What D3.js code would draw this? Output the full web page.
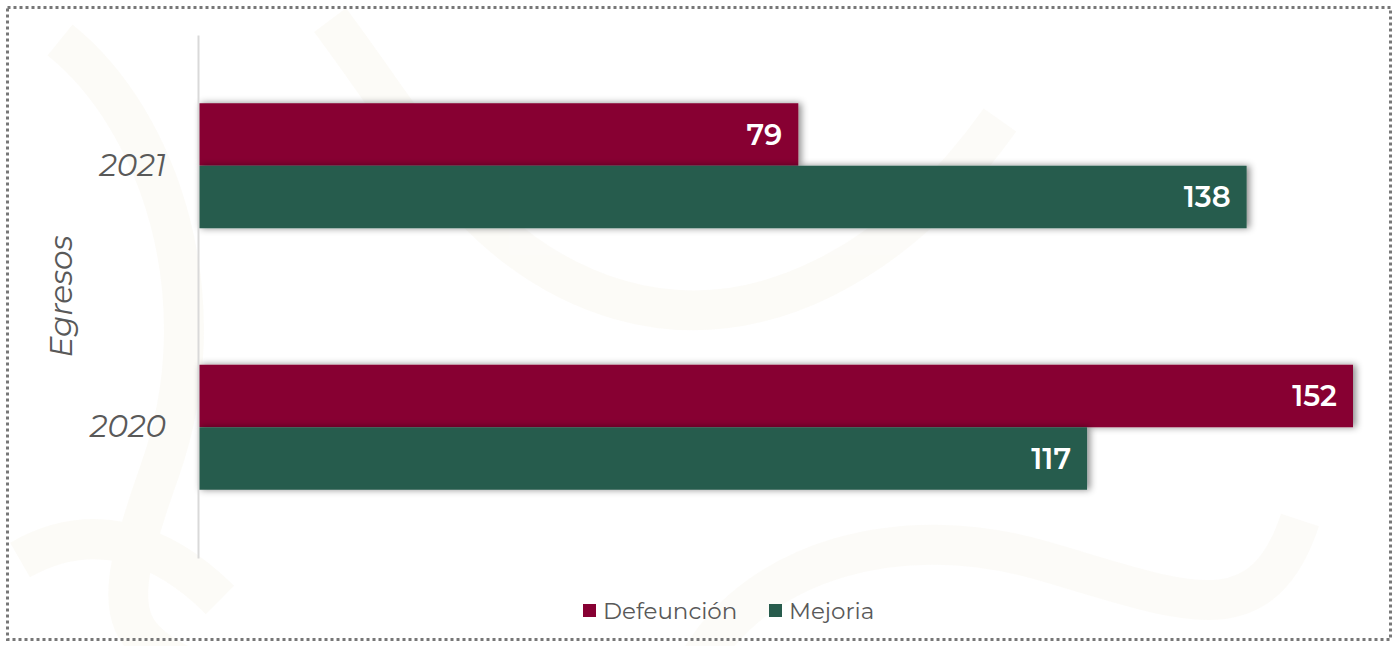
<!DOCTYPE html>
<html>
<head>
<meta charset="utf-8">
<script src="https://cdn.jsdelivr.net/npm/d3@7"></script>
<style>
  html, body { margin: 0; padding: 0; background: #ffffff; }
  svg { display: block; font-family: "Montserrat", "Noto Sans", "Open Sans", sans-serif; }
</style>
</head>
<body>
<svg id="chart" width="1397" height="646"></svg>
<script>
// Hospital discharges by outcome, per year
const years = ["2021", "2020"];
const seriesNames = ["Defeunción", "Mejoria"];
const defuncion = [79, 152];
const mejoria = [138, 117];
const seriesColors = ["#870033", "#285C4D"];
const axisTitle = "Egresos";

const svg = d3.select("#chart");
const W = 1397, H = 646;

// faint decorative background motif
const bg = svg.append("g").attr("fill", "none").attr("stroke", "#f7f4ea").attr("stroke-width", 40).attr("opacity", 0.35);
bg.append("path").attr("d", "M60,40 C160,120 220,300 160,470 S120,640 260,700");
bg.append("path").attr("d", "M330,20 C420,140 480,260 620,300 S900,260 1000,120");
bg.append("path").attr("d", "M700,660 C760,560 900,520 1040,560 S1260,640 1300,520");
bg.append("path").attr("d", "M20,560 C90,520 160,540 220,600");

// dotted frame
svg.append("rect")
  .attr("x", 7.5).attr("y", 7.5).attr("width", W - 14).attr("height", H - 14)
  .attr("fill", "none").attr("stroke", "#777777").attr("stroke-width", 3)
  .attr("stroke-dasharray", "3,3");

// bar shadow
const defs = svg.append("defs");
const f = defs.append("filter").attr("id", "shadow").attr("x", "-10%").attr("y", "-30%").attr("width", "120%").attr("height", "160%");
f.append("feDropShadow").attr("dx", 3).attr("dy", 0).attr("stdDeviation", 3.5)
  .attr("flood-color", "#000").attr("flood-opacity", 0.45);

const x0 = 198;
const x = d3.scaleLinear().domain([0, 152]).range([x0, 1353]);
const y = d3.scaleBand().domain(years).range([35, 558]).paddingInner(0.522).paddingOuter(0.261);
const ySub = d3.scaleBand().domain(seriesNames).range([0, y.bandwidth()]);

const rows = years.map((yr, i) => ({ year: yr, values: [defuncion[i], mejoria[i]] }));

const groups = svg.append("g").selectAll("g").data(rows).join("g")
  .attr("transform", d => `translate(0,${y(d.year)})`);

groups.selectAll("rect").data(d => d.values.map((v, j) => ({ name: seriesNames[j], v, j })))
  .join("rect")
  .attr("x", x(0))
  .attr("y", d => ySub(d.name))
  .attr("width", d => x(d.v) - x(0))
  .attr("height", ySub.bandwidth())
  .attr("fill", d => seriesColors[d.j])
  .attr("filter", "url(#shadow)");

groups.selectAll("text.val").data(d => d.values.map((v, j) => ({ name: seriesNames[j], v, j })))
  .join("text")
  .attr("class", "val")
  .attr("x", d => x(d.v) - 16)
  .attr("y", d => ySub(d.name) + ySub.bandwidth() / 2)
  .attr("dy", "0.36em")
  .attr("text-anchor", "end")
  .attr("fill", "#ffffff")
  .attr("font-weight", 600)
  .attr("font-size", 29)
  .text(d => d.v);

// category axis
const axis = svg.append("g").attr("transform", `translate(${x0},0)`)
  .call(d3.axisLeft(y).tickSize(0).tickPadding(32));
axis.select(".domain").attr("stroke", "#d9d9d9").attr("stroke-width", 2);
axis.selectAll(".tick text")
  .attr("font-size", 31).attr("font-style", "italic").attr("fill", "#595959")
  .attr("font-family", "\"Montserrat\", \"Noto Sans\", sans-serif");

svg.append("text")
  .attr("transform", `translate(72,${(35 + 558) / 2}) rotate(-90)`)
  .attr("text-anchor", "middle")
  .attr("font-size", 31).attr("font-style", "italic").attr("fill", "#595959")
  .text(axisTitle);

// legend
const legendItems = [{ name: seriesNames[0], color: seriesColors[0], x: 583 }, { name: seriesNames[1], color: seriesColors[1], x: 769 }];
const lg = svg.append("g").selectAll("g").data(legendItems).join("g")
  .attr("transform", d => `translate(${d.x},604)`);
lg.append("rect").attr("width", 13).attr("height", 13).attr("fill", d => d.color);
lg.append("text").attr("x", 20).attr("y", 6.5).attr("dy", "0.36em")
  .attr("font-size", 23).attr("fill", "#595959").text(d => d.name);
</script>
</body>
</html>
